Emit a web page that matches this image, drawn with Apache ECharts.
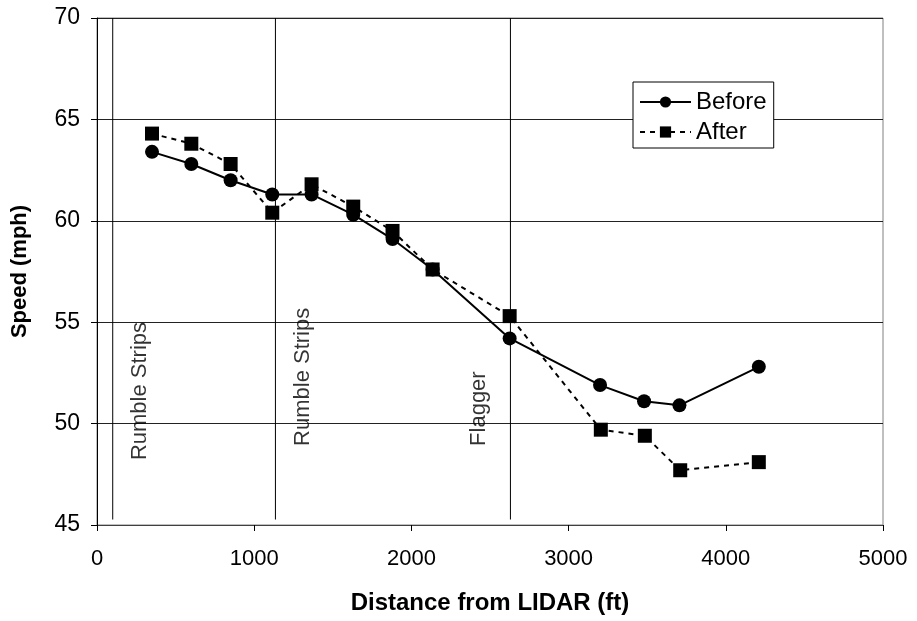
<!DOCTYPE html>
<html>
<head>
<meta charset="utf-8">
<script src="https://cdn.jsdelivr.net/npm/echarts@6/dist/echarts.min.js"></script>
<style>html,body{margin:0;padding:0;background:#fff}#c{width:917px;height:621px}</style>
</head>
<body>
<div id="c"></div>
<script>
const distBefore = [350, 600, 850, 1115, 1365, 1630, 1880, 2135, 2625, 3200, 3480, 3705, 4210];
const speedBefore = [63.4, 62.8, 62.0, 61.3, 61.3, 60.3, 59.1, 57.6, 54.2, 51.9, 51.1, 50.9, 52.8];
const distAfter = [350, 600, 850, 1115, 1365, 1630, 1880, 2135, 2625, 3205, 3485, 3710, 4210];
const speedAfter = [64.3, 63.8, 62.8, 60.4, 61.8, 60.7, 59.5, 57.6, 55.3, 49.7, 49.4, 47.7, 48.1];
const markerX = [100, 1135, 2630];
const markerNames = ["Rumble Strips", "Rumble Strips", "Flagger"];
const markerLabelX = [276, 1307, 2428];
const markerLabelY = [48.2, 48.9, 48.9];
const xTicks = [0, 1000, 2000, 3000, 4000, 5000];
const yTicks = [45, 50, 55, 60, 65, 70];

const FONT = "Liberation Sans, Arial, sans-serif";
const chart = echarts.init(document.getElementById('c'), null, {renderer: 'canvas'});

const zip = (a, b) => a.map((v, i) => [v, b[i]]);

const vSeries = markerX.map(x => ({
  type: 'line', silent: true, symbol: 'none', z: 1,
  data: [[x, 45.27], [x, 70]],
  lineStyle: {color: '#000', width: 1},
  animation: false
}));

const option = {
  animation: false,
  grid: {left: 97, right: 34, top: 18, bottom: 96, containLabel: false,
         show: true, borderColor: '#808080', borderWidth: 1},
  xAxis: {
    type: 'value', min: xTicks[0], max: xTicks[xTicks.length - 1], interval: 1000,
    name: 'Distance from LIDAR (ft)', nameLocation: 'middle', nameGap: 66,
    nameTextStyle: {fontFamily: FONT, fontSize: 24, fontWeight: 'bold', color: '#000'},
    axisLine: {show: true, lineStyle: {color: '#404040', width: 1}},
    axisTick: {show: true, inside: false, length: 6, lineStyle: {color: '#000'}},
    axisLabel: {margin: 23, fontFamily: FONT, fontSize: 22, color: '#000', formatter: v => String(v)},
    splitLine: {show: false}
  },
  yAxis: {
    type: 'value', min: yTicks[0], max: yTicks[yTicks.length - 1], interval: 5,
    name: 'Speed (mph)', nameLocation: 'middle', nameGap: 66, nameRotate: 90,
    nameTextStyle: {fontFamily: FONT, fontSize: 22, fontWeight: 'bold', color: '#000'},
    axisLine: {show: true, lineStyle: {color: '#000', width: 1}},
    axisTick: {show: true, inside: false, length: 6, lineStyle: {color: '#000'}},
    axisLabel: {margin: 17, fontFamily: FONT, fontSize: 23, color: '#000', formatter: v => String(v)},
    splitLine: {show: true, lineStyle: {color: '#222', width: 1}}
  },
  legend: {
    orient: 'vertical', left: 633, top: 82,
    backgroundColor: '#fff', borderColor: '#000', borderWidth: 1,
    padding: [8, 7, 4, 6], itemGap: 6, itemWidth: 51, itemHeight: 14,
    textStyle: {fontFamily: FONT, fontSize: 24, color: '#000'},
    data: ['Before', 'After']
  },
  series: [
    ...vSeries,
    {
      type: 'scatter', silent: true, symbolSize: 0, z: 2,
      data: markerNames.map((n, i) => [markerLabelX[i], markerLabelY[i], n]),
      label: {
        show: true, position: 'inside', rotate: 90, align: 'left', verticalAlign: 'middle',
        formatter: p => p.data[2], fontFamily: FONT, fontSize: 22, color: '#000'
      }
    },
    {
      name: 'Before', type: 'line', data: zip(distBefore, speedBefore), z: 5,
      symbol: 'circle', symbolSize: 14,
      itemStyle: {color: '#000'}, lineStyle: {color: '#000', width: 2, type: 'solid'}
    },
    {
      name: 'After', type: 'line', data: zip(distAfter, speedAfter), z: 4,
      symbol: 'rect', symbolSize: 14,
      itemStyle: {color: '#000'}, lineStyle: {color: '#000', width: 2, type: [5, 5]}
    }
  ]
};
chart.setOption(option);
</script>
</body>
</html>
